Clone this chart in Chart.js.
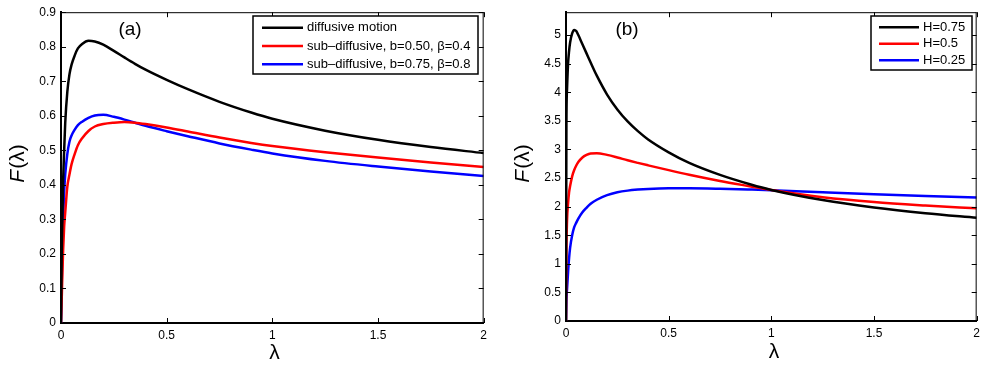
<!DOCTYPE html>
<html>
<head>
<meta charset="utf-8">
<script src="https://cdn.jsdelivr.net/npm/chart.js@4.4.1/dist/chart.umd.min.js"></script>
<style>
  html, body { margin: 0; padding: 0; background: #fff; }
  #wrap { position: relative; width: 985px; height: 369px; }
  .panel { position: absolute; top: 0; height: 369px; }
  #pa { left: 0; width: 492px; }
  #pb { left: 492px; width: 493px; }
</style>
</head>
<body>
<div id="wrap">
  <div class="panel" id="pa"><canvas id="ca"></canvas></div>
  <div class="panel" id="pb"><canvas id="cb"></canvas></div>
</div>
<script>
// ---------- Panel (a) data ----------
const lambdaA = [0, 0.003, 0.006, 0.01, 0.015, 0.02, 0.03, 0.04, 0.05, 0.065, 0.08, 0.1, 0.13, 0.16, 0.2, 0.25, 0.3, 0.35, 0.4, 0.5, 0.6, 0.75, 0.9, 1.0, 1.25, 1.5, 1.75, 2.0];
const blackA  = [0, 0.18, 0.29, 0.41, 0.50, 0.58, 0.67, 0.72, 0.748, 0.775, 0.795, 0.808, 0.817, 0.815, 0.806, 0.788, 0.769, 0.7505, 0.7335, 0.704, 0.677, 0.6405, 0.6095, 0.5915, 0.557, 0.5305, 0.5095, 0.492];
const redA    = [0, 0.06, 0.13, 0.21, 0.28, 0.32, 0.395, 0.43, 0.46, 0.49, 0.515, 0.535, 0.556, 0.569, 0.576, 0.580, 0.582, 0.580, 0.576, 0.566, 0.5545, 0.537, 0.5215, 0.5125, 0.4945, 0.479, 0.465, 0.452];
const blueA   = [0, 0.10, 0.21, 0.30, 0.38, 0.43, 0.49, 0.525, 0.543, 0.56, 0.573, 0.583, 0.594, 0.601, 0.603, 0.597, 0.589, 0.580, 0.571, 0.5555, 0.541, 0.520, 0.502, 0.491, 0.4695, 0.453, 0.4385, 0.426];
const seriesNamesA = ['diffusive motion', 'sub\u2013diffusive, b=0.50, \u03B2=0.4', 'sub\u2013diffusive, b=0.75, \u03B2=0.8'];
const yTicksA = [0, 0.1, 0.2, 0.3, 0.4, 0.5, 0.6, 0.7, 0.8, 0.9];
const yTickLabelsA = ['0', '0.1', '0.2', '0.3', '0.4', '0.5', '0.6', '0.7', '0.8', '0.9'];

// ---------- Panel (b) data ----------
const lambdaB = [0, 0.002, 0.005, 0.01, 0.015, 0.02, 0.03, 0.04, 0.05, 0.06, 0.08, 0.1, 0.12, 0.15, 0.2, 0.25, 0.3, 0.35, 0.4, 0.5, 0.6, 0.75, 0.9, 1.0, 1.25, 1.5, 1.75, 2.0];
const blackB  = [0, 3.4, 4.05, 4.5, 4.72, 4.87, 5.03, 5.09, 5.07, 5.0, 4.84, 4.68, 4.52, 4.29, 3.96, 3.70, 3.49, 3.32, 3.175, 2.95, 2.765, 2.555, 2.387, 2.292, 2.115, 1.985, 1.885, 1.805];
const redB    = [0, 1.2, 1.75, 2.05, 2.25, 2.36, 2.53, 2.64, 2.72, 2.78, 2.86, 2.905, 2.93, 2.935, 2.905, 2.86, 2.81, 2.765, 2.722, 2.638, 2.558, 2.449, 2.353, 2.29, 2.165, 2.08, 2.02, 1.97];
const blueB   = [0, 0.35, 0.55, 0.85, 1.1, 1.28, 1.5, 1.64, 1.72, 1.79, 1.9, 1.98, 2.05, 2.12, 2.2, 2.25, 2.28, 2.298, 2.31, 2.32, 2.32, 2.312, 2.298, 2.287, 2.25, 2.215, 2.185, 2.16];
const seriesNamesB = ['H=0.75', 'H=0.5', 'H=0.25'];
const yTicksB = [0, 0.5, 1, 1.5, 2, 2.5, 3, 3.5, 4, 4.5, 5];
const yTickLabelsB = ['0', '0.5', '1', '1.5', '2', '2.5', '3', '3.5', '4', '4.5', '5'];

// ---------- Shared ----------
const xTicks = [0, 0.5, 1, 1.5, 2];
const xTickLabels = ['0', '0.5', '1', '1.5', '2'];
const colors = ['#000000', '#ff0000', '#0000ff'];

const FONT = '"Liberation Sans", Arial, Helvetica, sans-serif';
Chart.defaults.font.family = FONT;
Chart.defaults.color = '#000';

function pts(xs, ys) { return xs.map((x, i) => ({ x: x, y: ys[i] })); }

const decorPlugin = {
  id: 'decor',
  afterDraw(chart) {
    const o = chart.options.plugins.decor;
    const ctx = chart.ctx;
    const a = chart.chartArea;
    const xs = chart.scales.x, ys = chart.scales.y;
    ctx.save();
    // top & right frame
    ctx.strokeStyle = '#000';
    ctx.lineWidth = 1;
    ctx.beginPath();
    ctx.moveTo(a.left, a.top + 0.5); ctx.lineTo(a.right, a.top + 0.5);
    ctx.moveTo(a.right - 0.5, a.top); ctx.lineTo(a.right - 0.5, a.bottom);
    ctx.stroke();
    // inward ticks
    const tl = 5;
    ctx.beginPath();
    xs.ticks.forEach(t => {
      const px = Math.round(xs.getPixelForValue(t.value)) + 0.5;
      ctx.moveTo(px, a.bottom); ctx.lineTo(px, a.bottom - tl);
      ctx.moveTo(px, a.top); ctx.lineTo(px, a.top + tl);
    });
    ys.ticks.forEach(t => {
      const py = Math.round(ys.getPixelForValue(t.value)) + 0.5;
      ctx.moveTo(a.left, py); ctx.lineTo(a.left + tl, py);
      ctx.moveTo(a.right, py); ctx.lineTo(a.right - tl, py);
    });
    ctx.stroke();

    // legend box
    const L = o.legend;
    ctx.fillStyle = '#fff';
    ctx.fillRect(L.x, L.y, L.w, L.h);
    ctx.lineWidth = 1.5;
    ctx.strokeStyle = '#000';
    ctx.strokeRect(L.x, L.y, L.w, L.h);
    ctx.font = '13px ' + FONT;
    ctx.textBaseline = 'middle';
    ctx.textAlign = 'left';
    chart.data.datasets.forEach((ds, i) => {
      const ry = L.rows[i];
      ctx.strokeStyle = ds.borderColor;
      ctx.lineWidth = 2.5;
      ctx.beginPath();
      ctx.moveTo(L.lx0, ry); ctx.lineTo(L.lx1, ry);
      ctx.stroke();
      ctx.fillStyle = '#000';
      ctx.fillText(ds.label, L.tx, ry);
    });

    // panel label
    ctx.font = '19px ' + FONT;
    ctx.textAlign = 'center';
    ctx.textBaseline = 'middle';
    ctx.fillStyle = '#000';
    ctx.fillText(o.panelLabel, o.panelX, o.panelY);

    // x title
    ctx.font = '21px ' + FONT;
    ctx.fillText('\u03BB', o.xTitleX, o.xTitleY);

    // y title F(λ) rotated
    ctx.save();
    ctx.translate(o.yTitleX, o.yTitleY);
    ctx.rotate(-Math.PI / 2);
    ctx.textAlign = 'left';
    const fF = 'italic 21px ' + FONT, fR = '21px ' + FONT;
    ctx.font = fF; const w1 = ctx.measureText('F').width;
    ctx.font = fR; const w2 = ctx.measureText('(\u03BB)').width;
    const start = -(w1 + w2) / 2;
    ctx.font = fF; ctx.fillText('F', start, 0);
    ctx.font = fR; ctx.fillText('(\u03BB)', start + w1 + 1, 0);
    ctx.restore();

    ctx.restore();
  }
};

function makeChart(id, lam, ys, names, yMax, yTicks, yLabels, yWidth, xHeight, padRight, deco) {
  return new Chart(document.getElementById(id), {
    type: 'line',
    data: {
      datasets: ys.map((arr, i) => ({
        label: names[i],
        data: pts(lam, arr),
        borderColor: colors[i],
        borderWidth: 2.5,
        pointRadius: 0,
        fill: false,
        cubicInterpolationMode: 'monotone'
      }))
    },
    options: {
      responsive: true,
      maintainAspectRatio: false,
      animation: false,
      events: [],
      layout: { padding: { top: 8, right: padRight, left: 0, bottom: 0 } },
      plugins: { legend: { display: false }, tooltip: { enabled: false }, decor: deco },
      scales: {
        x: {
          type: 'linear', min: 0, max: 2,
          grid: { display: false, drawTicks: false },
          border: { display: true, color: '#000', width: 2 },
          afterBuildTicks: s => { s.ticks = xTicks.map(v => ({ value: v })); },
          afterFit: s => { s.height = xHeight; },
          ticks: {
            padding: 5, maxRotation: 0, autoSkip: false,
            font: { size: 12 },
            callback: (v) => xTickLabels[xTicks.indexOf(v)]
          }
        },
        y: {
          type: 'linear', min: 0, max: yMax,
          grid: { display: false, drawTicks: false },
          border: { display: true, color: '#000', width: 2 },
          afterBuildTicks: s => { s.ticks = yTicks.map(v => ({ value: v })); },
          afterFit: s => { s.width = yWidth; },
          ticks: {
            padding: 5, autoSkip: false,
            font: { size: 12 },
            callback: (v) => yLabels[yTicks.indexOf(v)]
          }
        }
      }
    },
    plugins: [decorPlugin]
  });
}

makeChart('ca', lambdaA, [blackA, redA, blueA], seriesNamesA, 0.9, yTicksA, yTickLabelsA, 61, 46, 4, {
  legend: { x: 253, y: 16, w: 225, h: 58, rows: [27.7, 46, 64.3], lx0: 262, lx1: 303, tx: 307 },
  panelLabel: '(a)', panelX: 130, panelY: 30,
  xTitleX: 274.5, xTitleY: 353,
  yTitleX: 18, yTitleY: 164
});

makeChart('cb', lambdaB, [blackB, redB, blueB], seriesNamesB, 5.4, yTicksB, yTickLabelsB, 74, 48, 3, {
  legend: { x: 379, y: 16, w: 101, h: 54, rows: [27.3, 43.7, 60.3], lx0: 387, lx1: 427, tx: 431 },
  panelLabel: '(b)', panelX: 135, panelY: 30,
  xTitleX: 282, xTitleY: 352,
  yTitleX: 31, yTitleY: 164
});
</script>
</body>
</html>
